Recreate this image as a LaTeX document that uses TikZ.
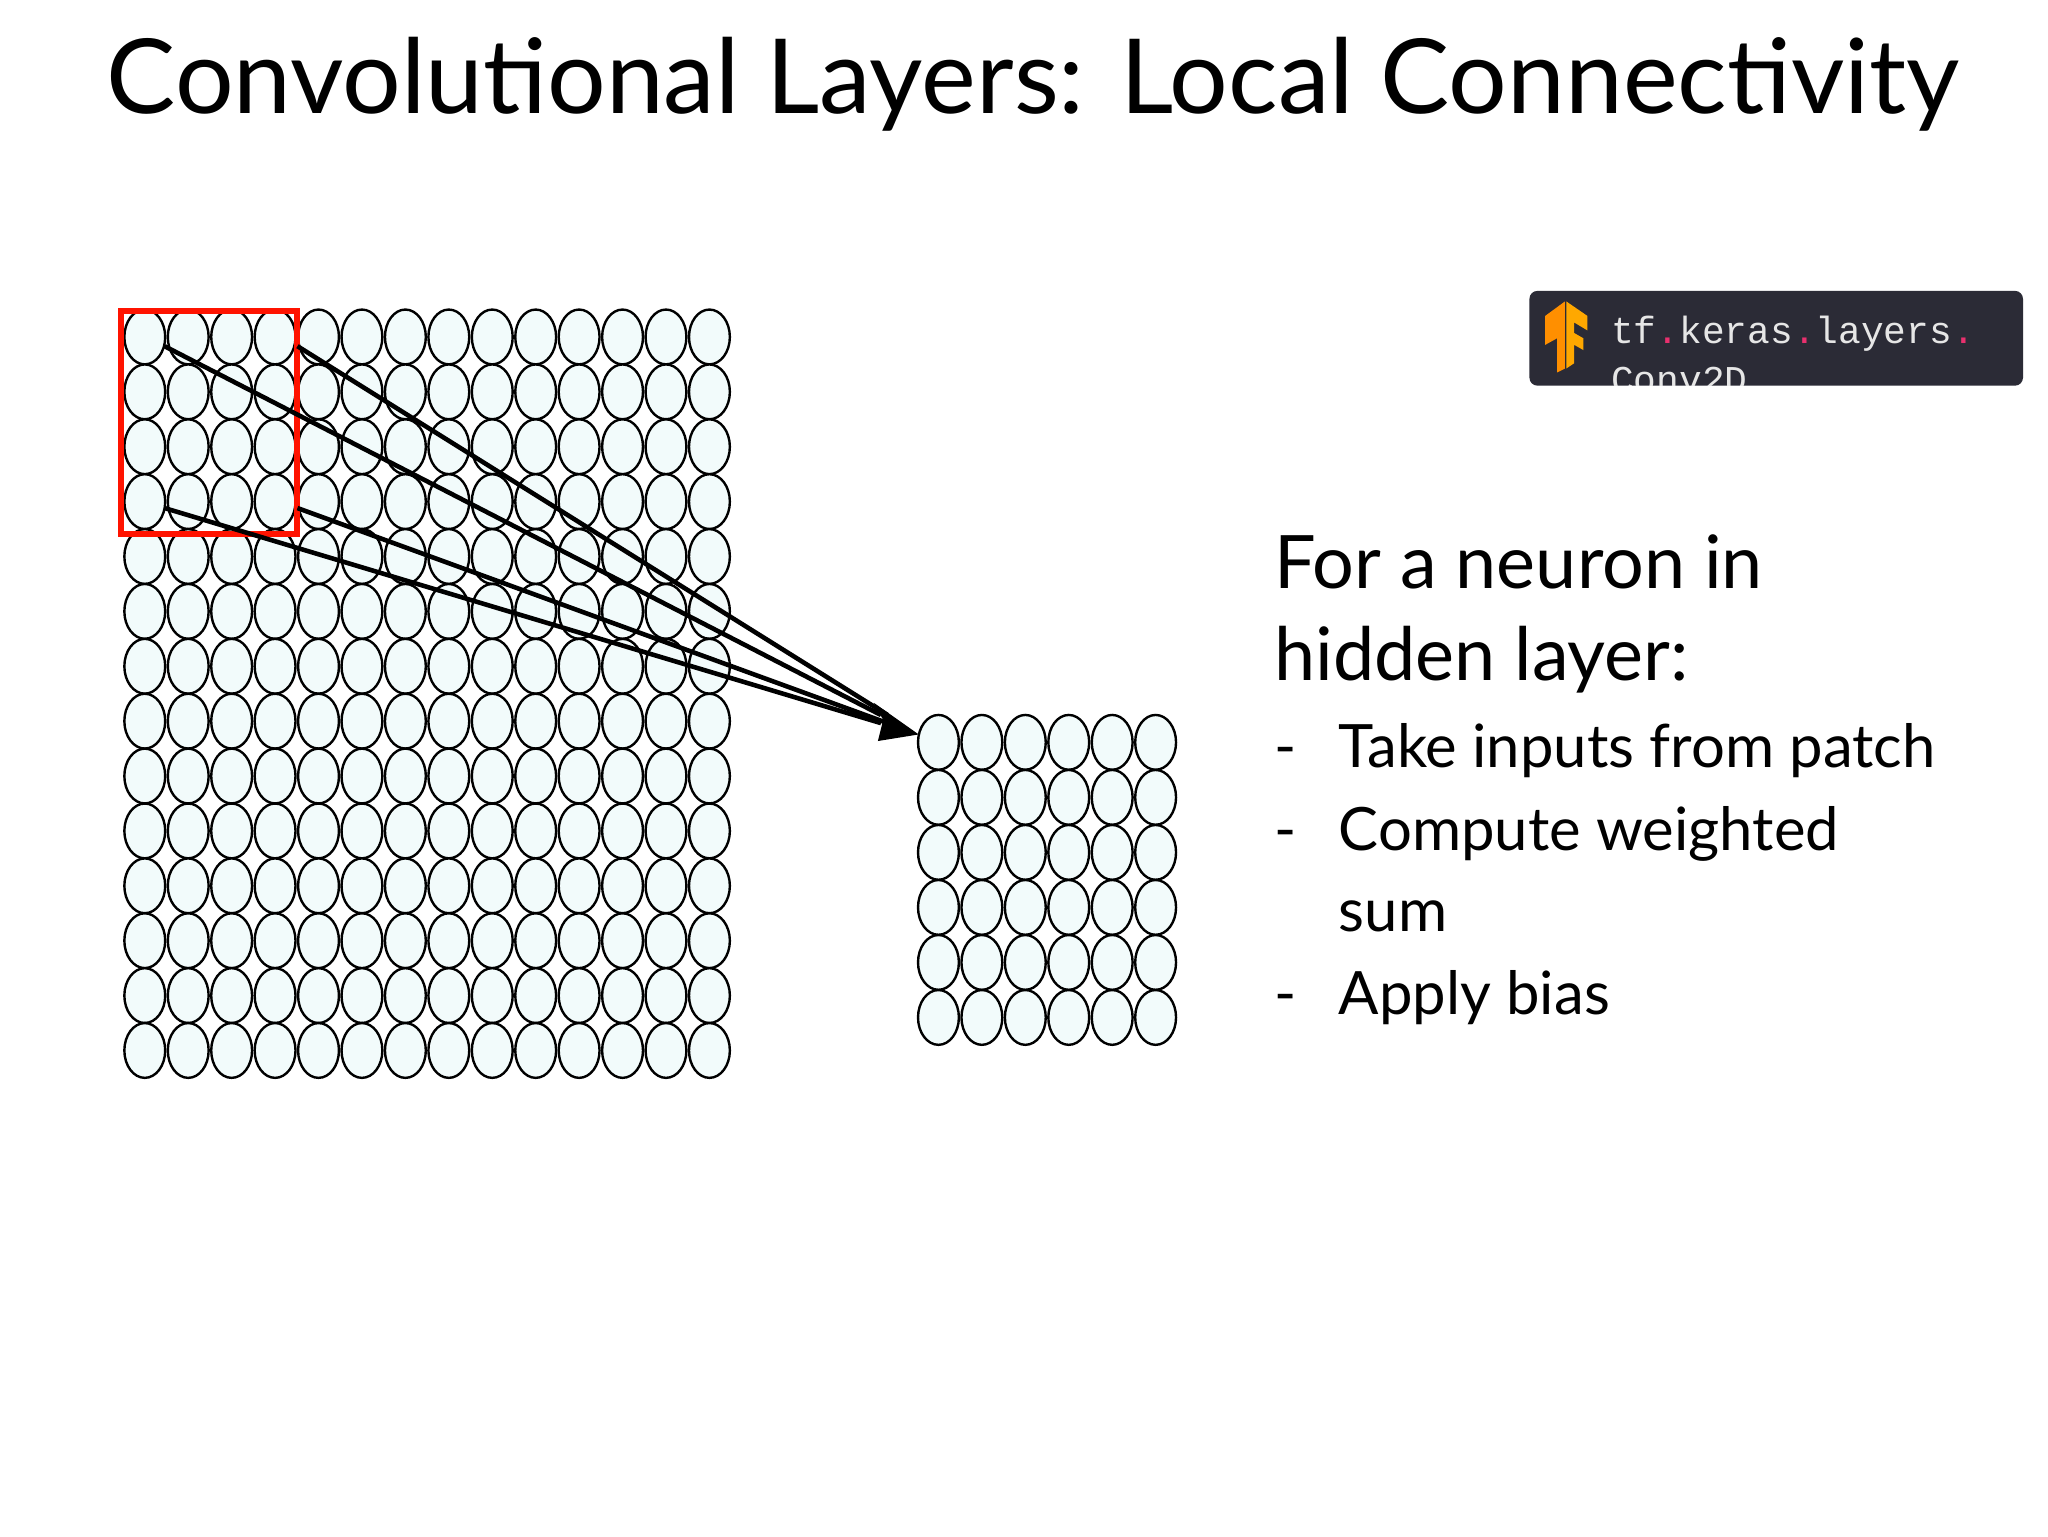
\documentclass[tikz,border=0pt]{standalone}
\usepackage{fontspec}
\usetikzlibrary{shapes.geometric,calc}
\setmainfont{Lato}
\setmonofont{Liberation Mono}
\definecolor{cellfill}{HTML}{F2FBFB}
\definecolor{badge}{HTML}{2B2B36}
\definecolor{dotpink}{HTML}{E8306E}
\definecolor{tforange}{HTML}{FF8F00}
\definecolor{tfyellow}{HTML}{FFA800}
\definecolor{monogray}{HTML}{E6E6E6}
\begin{document}
\begin{tikzpicture}[x=1.316bp,y=-1.316bp,
  cell/.style={draw=black,line width=2.4pt,fill=cellfill,ellipse,minimum width=41pt,minimum height=55pt,inner sep=0pt},
  conn/.style={draw=black,line width=4.6pt},
  bodytext/.style={anchor=base west,inner sep=0pt,font=\fontsize{74}{80}\selectfont},
  bullettext/.style={anchor=base west,inner sep=0pt,font=\fontsize{60}{66}\selectfont}]
\useasboundingbox (0,0) rectangle (1556,1167);
\fill[white] (0,0) rectangle (1556,1167);
\node[anchor=base,inner sep=0pt,font=\fontsize{104}{110}\selectfont] (title) at (785,86) {Convolutional Layers: Local Connectivity};
% input grid
\foreach \i in {0,...,13}{\foreach \j in {0,...,13}{
  \node[cell] (a-\i-\j) at (110+33*\i,256+41.7*\j) {};}}
% output grid
\foreach \i in {0,...,5}{\foreach \j in {0,...,5}{
  \node[cell] (b-\i-\j) at (713+33*\i,564+41.8*\j) {};}}
\draw[red!85!orange,line width=6pt] (92,236) rectangle (226,406);
\coordinate (p1) at (125,263);
\coordinate (p2) at (226,263);
\coordinate (p3) at (125,386);
\coordinate (p4) at (226,386);
\coordinate (tip) at (698,558);
\foreach \p in {p1,p2,p3,p4}{\draw[conn] (\p) -- ($(\p)!0.95!(tip)$);}
\fill[black] (tip) -- ++(-34,-24) -- ++(7,13) -- ++(-4,16) -- cycle;
% badge
\fill[badge,rounded corners=8pt] (1162,221) rectangle (1537,293);
\begin{scope}
\clip (1162,221) rectangle (1537,293);
\node[anchor=base west,inner sep=0pt,text=monogray,font=\ttfamily\fontsize{38}{48}\selectfont] (code1) at (1224,261) {tf\textcolor{dotpink}{.}keras\textcolor{dotpink}{.}layers\textcolor{dotpink}{.}};
\node[anchor=base west,inner sep=0pt,text=monogray,font=\ttfamily\fontsize{38}{48}\selectfont] (code2) at (1224,298) {Conv2D};
\end{scope}
% tf logo
\fill[tforange] (1189,229) -- (1174,240) -- (1174,262) -- (1183,257) -- (1183,283) -- (1189,280) -- cycle;
\fill[tfyellow] (1190,229) -- (1206,240) -- (1206,251) -- (1196,245) -- (1196,253) -- (1203,257) -- (1203,266) -- (1196,262) -- (1196,276) -- (1190,280) -- cycle;
% text
\node[bodytext] (t1) at (968,447) {For a neuron in};
\node[bodytext] (t2) at (968,517) {hidden layer:};
\node[bullettext] (d1) at (968,583) {-};
\node[bullettext] (l1) at (1017,583) {Take inputs from patch};
\node[bullettext] (d2) at (968,646) {-};
\node[bullettext] (l2) at (1017,646) {Compute weighted};
\node[bullettext] (l3) at (1017,708) {sum};
\node[bullettext] (d3) at (968,771) {-};
\node[bullettext] (l4) at (1017,771) {Apply bias};
\end{tikzpicture}
\end{document}
